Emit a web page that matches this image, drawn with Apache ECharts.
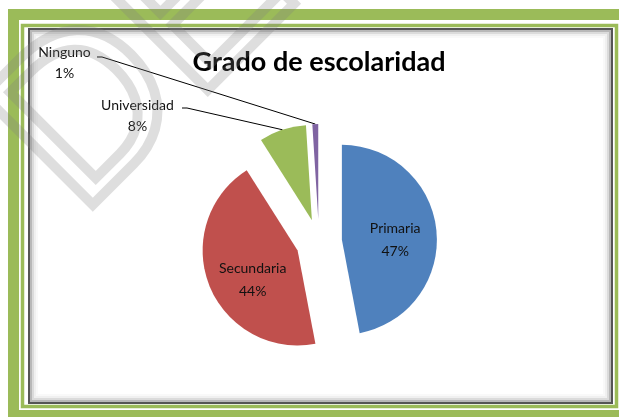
<!DOCTYPE html>
<html>
<head>
<meta charset="utf-8">
<script src="https://cdn.jsdelivr.net/npm/echarts@6/dist/echarts.min.js"></script>
<style>
html,body{margin:0;padding:0;background:#fff;}
#chart{width:619px;height:417px;}
</style>
</head>
<body>
<div id="chart"></div>
<script>
const categories = ['Primaria', 'Secundaria', 'Universidad', 'Ninguno'];
const values = [47, 44, 8, 1];
const colors = ['#4F81BD', '#C0504D', '#9BBB59', '#8064A2'];
const chartTitle = 'Grado de escolaridad';
const pageHeading = 'Grado de Escolaridad';
const watermarkText = 'DE';

const SELECTED_OFFSET = 23;
// outside label placement (label box centre-x, top-y) and leader-line elbow
const outsideLabels = {
  'Universidad': { x: 137.5, y: 95, elbow: [[182, 108], [187, 108]] },
  'Ninguno': { x: 64.5, y: 42, elbow: [[97, 57], [102, 57]] }
};
// small nudges of the inside labels
const insideLabelOffsets = { 'Primaria': [3, 5], 'Secundaria': [2, 11] };

// explode shift of each slice (derived from the data, same as the library does)
const total = values.reduce((a, b) => a + b, 0);
const shifts = [];
(function () {
  let cum = 0;
  values.forEach(v => {
    const a = (90 - (cum + v / 2) / total * 360) * Math.PI / 180;
    shifts.push([SELECTED_OFFSET * Math.cos(a), -SELECTED_OFFSET * Math.sin(a)]);
    cum += v;
  });
})();

const chart = echarts.init(document.getElementById('chart'), null, { renderer: 'canvas' });

const data = categories.map((name, i) => {
  const inside = i < 2;
  return {
    name: name,
    value: values[i],
    selected: true,
    itemStyle: { color: colors[i] },
    label: inside
      ? { position: 'inside', lineHeight: 23 }
      : { position: 'outside', lineHeight: 21 },
    labelLine: { show: !inside }
  };
});

const option = {
  animation: false,
  backgroundColor: '#ffffff',
  title: {
    text: chartTitle,
    left: 314,
    top: 44,
    textAlign: 'center',
    textStyle: { fontFamily: 'Lato', fontWeight: 'bold', fontSize: 27, color: '#000' }
  },
  series: [{
    type: 'pie',
    center: [319, 242],
    radius: 95,
    startAngle: 90,
    clockwise: true,
    selectedMode: 'multiple',
    selectedOffset: SELECTED_OFFSET,
    avoidLabelOverlap: false,
    emphasis: { disabled: true },
    label: {
      show: true,
      formatter: '{b}\n{d}%',
      fontFamily: 'Lato',
      fontSize: 14,
      lineHeight: 21,
      color: '#111',
      align: 'center'
    },
    labelLine: {
      show: true,
      length: 10,
      length2: 10,
      lineStyle: { color: '#000', width: 1 }
    },
    labelLayout: function (params) {
      const name = categories[params.dataIndex];
      const off = insideLabelOffsets[name];
      if (off) return { dx: off[0], dy: off[1] };
      const cfg = outsideLabels[name];
      if (!cfg) return {};
      const s = shifts[params.dataIndex];
      const anchor = params.labelLinePoints ? params.labelLinePoints[0] : null;
      const pts = [
        [cfg.elbow[0][0] - s[0], cfg.elbow[0][1] - s[1]],
        [cfg.elbow[1][0] - s[0], cfg.elbow[1][1] - s[1]]
      ];
      if (anchor) pts.push(anchor);
      const r = params.labelRect;
      // default outside label on the left is right-aligned: its anchor is the right edge
      return {
        align: 'center',
        dx: cfg.x - s[0] - (r.x + r.width),
        dy: cfg.y - s[1] - r.y,
        labelLinePoints: pts
      };
    },
    data: data
  }],
  graphic: [
    { type: 'rect', z: 1, silent: true,
      shape: { x: 13.5, y: 14.5, width: 615, height: 401 },
      style: { fill: 'none', stroke: '#9BBB59', lineWidth: 11 } },
    { type: 'rect', z: 1, silent: true,
      shape: { x: 22.5, y: 25.5, width: 594, height: 381 },
      style: { fill: 'none', stroke: '#9BBB59', lineWidth: 3.5 } },
    { type: 'rect', z: 1, silent: true,
      shape: { x: 29, y: 29, width: 583, height: 374 },
      style: { fill: 'none', stroke: '#555', lineWidth: 2 } },
    { type: 'rect', z: 1, silent: true,
      shape: { x: 31, y: 31, width: 579, height: 370 },
      style: { fill: 'none', stroke: 'rgba(0,0,0,0.28)', lineWidth: 2 } },
    { type: 'rect', z: 1, silent: true,
      shape: { x: 33, y: 33, width: 575, height: 366 },
      style: { fill: 'none', stroke: 'rgba(0,0,0,0.14)', lineWidth: 2 } },
    { type: 'rect', z: 1, silent: true,
      shape: { x: 35, y: 35, width: 571, height: 362 },
      style: { fill: 'none', stroke: 'rgba(0,0,0,0.06)', lineWidth: 2 } },
    { type: 'rect', z: 1, silent: true,
      shape: { x: 37, y: 37, width: 567, height: 358 },
      style: { fill: 'none', stroke: 'rgba(0,0,0,0.025)', lineWidth: 2 } },
    { type: 'text', z: 2, silent: true, x: 323, y: -9,
      style: { text: pageHeading, font: 'bold 26px "Liberation Serif"', fill: '#000',
               align: 'center', verticalAlign: 'middle' } },
    { type: 'text', z: 100, silent: true, x: 36, y: 174, rotation: Math.PI / 4,
      style: { text: watermarkText, font: '225px "Liberation Sans"', fill: 'none',
               stroke: 'rgba(128,128,128,0.26)', lineWidth: 10,
               align: 'left', verticalAlign: 'middle' } }
  ]
};

chart.setOption(option);
</script>
</body>
</html>
